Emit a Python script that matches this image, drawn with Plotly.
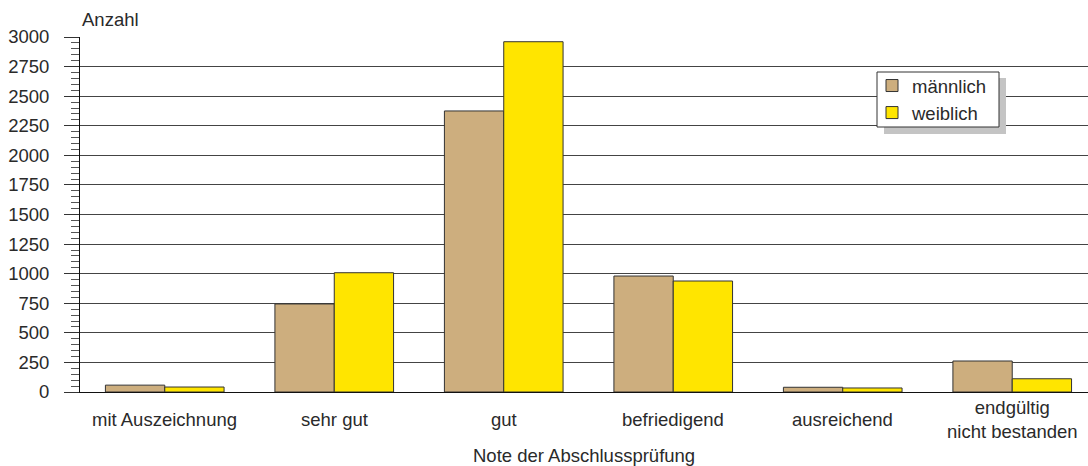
import plotly.graph_objects as go

categories = ["mit Auszeichnung", "sehr gut", "gut", "befriedigend", "ausreichend",
              "endgültig<br>nicht bestanden"]
maennlich = [58, 744, 2375, 980, 40, 262]
weiblich = [42, 1008, 2960, 938, 34, 112]
y_ticks = list(range(0, 3001, 250))
series_names = ["männlich", "weiblich"]

FONT = "Liberation Sans, Arial, sans-serif"
TXT = "#2a2a2a"
FS = 18.5

fig = go.Figure()
fig.add_trace(go.Bar(x=categories, y=maennlich, name=series_names[0],
                     marker=dict(color="#CDAE7E", line=dict(color="#333333", width=1))))
fig.add_trace(go.Bar(x=categories, y=weiblich, name=series_names[1],
                     marker=dict(color="#FFE500", line=dict(color="#333333", width=1))))

# category labels
for c in categories:
    fig.add_annotation(x=c, y=0, xref="x", yref="y", text=c, showarrow=False,
                       yanchor="middle", yshift=-27,
                       font=dict(family=FONT, size=FS, color=TXT))

fig.add_annotation(x=0.5, y=0, xref="paper", yref="paper", text="Note der Abschlussprüfung",
                   showarrow=False, yanchor="middle", yshift=-63,
                   font=dict(family=FONT, size=FS, color=TXT))
fig.add_annotation(x=0, y=1, xref="paper", yref="paper", text="Anzahl",
                   showarrow=False, xanchor="left", yanchor="middle", yshift=18, xshift=0,
                   font=dict(family=FONT, size=FS, color=TXT))

L, T = 80, 37
W, H = 1008, 355
def px_x(p):
    return (p - L) / W
def px_y(p):
    return (T + H - p) / H

# legend shadow and box
fig.add_shape(type="rect", xref="paper", yref="paper",
              x0=px_x(884), x1=px_x(1006), y0=px_y(134), y1=px_y(78),
              fillcolor="#C4C4C4", line=dict(width=0), layer="above")
fig.add_shape(type="rect", xref="paper", yref="paper",
              x0=px_x(877), x1=px_x(999), y0=px_y(127), y1=px_y(72),
              fillcolor="white", line=dict(color="#333333", width=1), layer="above")

fig.update_layout(
    width=1088, height=466,
    margin=dict(l=L, r=0, t=T, b=466 - T - H),
    paper_bgcolor="white", plot_bgcolor="white",
    barmode="group", bargap=0.3, bargroupgap=0,
    font=dict(family=FONT, size=FS, color=TXT),
    showlegend=True,
    legend=dict(x=px_x(872), y=px_y(67), xanchor="left", yanchor="top",
                bgcolor="rgba(0,0,0,0)", borderwidth=0,
                font=dict(family=FONT, size=FS, color=TXT),
                tracegroupgap=0),
    xaxis=dict(range=[-0.5, 5.447], showticklabels=False, ticks="",
               showline=True, linecolor="#111111", linewidth=1, showgrid=False,
               fixedrange=True),
    yaxis=dict(range=[0, 3000], tickvals=y_ticks, ticktext=[str(v) for v in y_ticks],
               ticks="outside", ticklen=15, tickcolor="#333333", tickwidth=1,
               ticklabelstandoff=11,
               minor=dict(dtick=50, ticks="outside", ticklen=8, tickcolor="#555555",
                          showgrid=False),
               showline=True, linecolor="#111111", linewidth=1,
               showgrid=True, gridcolor="#444444", gridwidth=1, zeroline=False,
               fixedrange=True,
               tickfont=dict(family=FONT, size=FS, color=TXT)),
)

fig.write_html("out.html", config={"displayModeBar": False},
               post_script="document.body.style.margin='0px';"
                           "document.documentElement.style.overflow='hidden';")
